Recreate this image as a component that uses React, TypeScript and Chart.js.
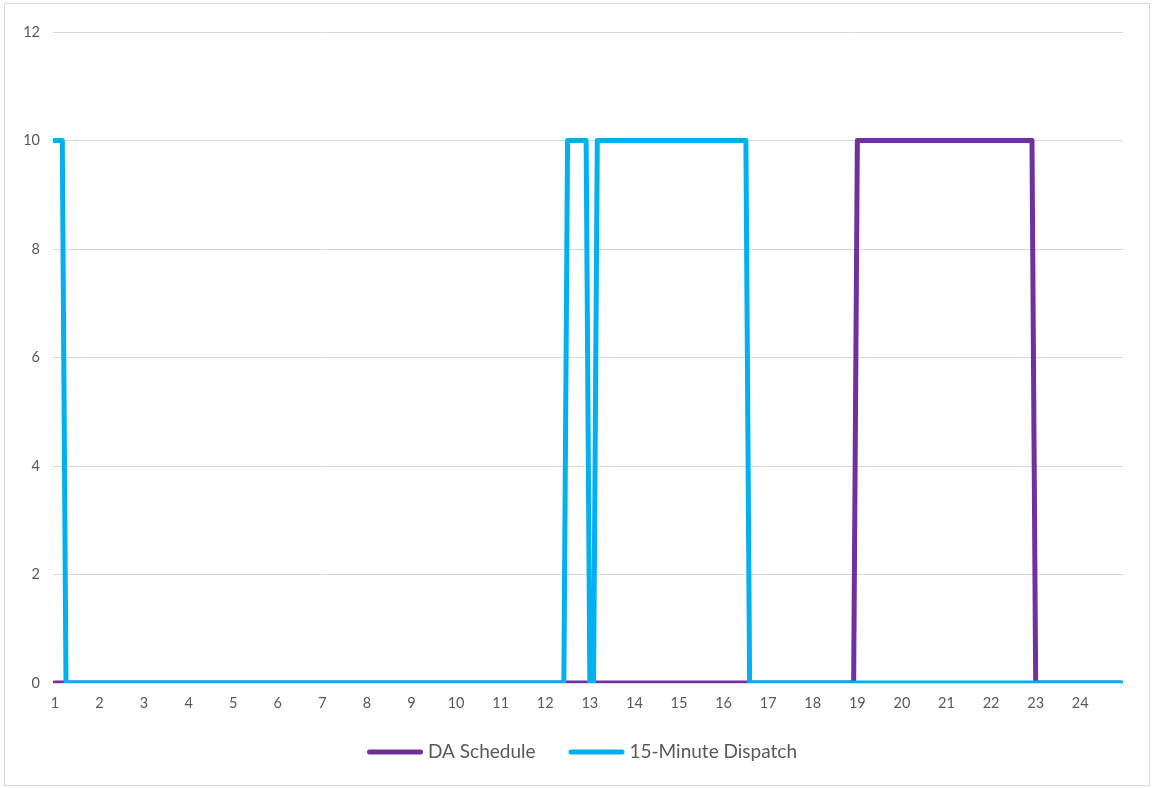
import React, { useEffect, useRef } from "react";
import { Chart, registerables } from "chart.js";

Chart.register(...registerables);

// x positions are 5-minute interval indices (0..287); hour labels every 12 intervals
const hourLabels = ["1","2","3","4","5","6","7","8","9","10","11","12","13","14","15","16","17","18","19","20","21","22","23","24"];
const hourTickIndex = [0,12,24,36,48,60,72,84,96,108,120,132,144,156,168,180,192,204,216,228,240,252,264,276];

// DA Schedule: change points (interval index, MW)
const daX = [0, 215, 216, 263, 264, 287];
const daY = [0, 0, 10, 10, 0, 0];

// 15-Minute Dispatch: change points (interval index, MW)
const dispX = [0, 2, 3, 137, 138, 143, 144, 145, 146, 186, 187, 287];
const dispY = [10, 10, 0, 0, 10, 10, 0, 0, 10, 10, 0, 0];

const seriesNames = ["DA Schedule", "15-Minute Dispatch"];
const seriesColors = ["#7030A0", "#00B0F0"];
const yTicks = [0, 2, 4, 6, 8, 10, 12];

const FONT = "Lato, 'Liberation Sans', Arial, sans-serif";

export default function App() {
  const ref = useRef<HTMLCanvasElement | null>(null);
  useEffect(() => {
    const canvas = ref.current;
    if (!canvas) return;

    const framePlugin = {
      id: "frame",
      beforeDraw(chart: any) {
        const ctx = chart.ctx;
        ctx.save();
        ctx.fillStyle = "#ffffff";
        ctx.fillRect(0, 0, chart.width, chart.height);
        ctx.strokeStyle = "#d9d9d9";
        ctx.lineWidth = 1;
        ctx.strokeRect(4.5, 3.5, 1145, 782);
        ctx.restore();
      },
      afterDraw(chart: any) {
        const ctx = chart.ctx;
        ctx.save();
        ctx.font = `19px ${FONT}`;
        ctx.textBaseline = "middle";
        const lineLen = 56;
        const gapText = 5;
        const gapItem = 33;
        const w0 = ctx.measureText(seriesNames[0]).width;
        const w1 = ctx.measureText(seriesNames[1]).width;
        const total = lineLen + gapText + w0 + gapItem + lineLen + gapText + w1;
        let x = 582 - total / 2;
        const y = 752;
        const widths = [w0, w1];
        for (let i = 0; i < 2; i++) {
          ctx.strokeStyle = seriesColors[i];
          ctx.lineWidth = 5;
          ctx.lineCap = "round";
          ctx.beginPath();
          ctx.moveTo(x + 2.5, y);
          ctx.lineTo(x + lineLen - 2.5, y);
          ctx.stroke();
          ctx.fillStyle = "#595959";
          ctx.textAlign = "left";
          ctx.fillText(seriesNames[i], x + lineLen + gapText, y);
          x += lineLen + gapText + widths[i] + gapItem;
        }
        ctx.restore();
      },
    };

    const chart = new Chart(canvas, {
      type: "line",
      data: {
        datasets: [
          {
            label: seriesNames[0],
            data: daX.map((x, i) => ({ x, y: daY[i] })),
            borderColor: seriesColors[0],
            backgroundColor: seriesColors[0],
            borderWidth: 5,
            pointRadius: 0,
            borderJoinStyle: "round",
            borderCapStyle: "round",
            tension: 0,
            order: 1,
          },
          {
            label: seriesNames[1],
            data: dispX.map((x, i) => ({ x, y: dispY[i] })),
            borderColor: seriesColors[1],
            backgroundColor: seriesColors[1],
            borderWidth: 5,
            pointRadius: 0,
            borderJoinStyle: "round",
            borderCapStyle: "round",
            tension: 0,
            order: 0,
          },
        ],
      },
      options: {
        animation: false,
        responsive: false,
        devicePixelRatio: 1,
        layout: { padding: { top: 32, left: 0, right: 31, bottom: 65 } },
        plugins: {
          legend: { display: false },
          tooltip: { enabled: false },
        },
        scales: {
          x: {
            type: "linear",
            min: -0.5,
            max: 287.5,
            grid: { display: false, drawTicks: false },
            border: { display: false },
            afterBuildTicks: (scale: any) => {
              scale.ticks = hourTickIndex.map((v) => ({ value: v }));
            },
            afterFit: (scale: any) => {
              scale.height = 40;
            },
            ticks: {
              autoSkip: false,
              maxRotation: 0,
              padding: 12,
              color: "#595959",
              font: { size: 14.5, family: FONT },
              callback: (_v: any, i: number) => hourLabels[i],
            },
          },
          y: {
            min: 0,
            max: 12,
            grid: { color: "#d9d9d9", lineWidth: 1, drawTicks: false },
            border: { display: false },
            afterBuildTicks: (scale: any) => {
              scale.ticks = yTicks.map((v) => ({ value: v }));
            },
            afterFit: (scale: any) => {
              scale.width = 53;
            },
            ticks: {
              padding: 13,
              color: "#595959",
              font: { size: 14.5, family: FONT },
            },
          },
        },
      },
      plugins: [framePlugin],
    } as any);
    return () => chart.destroy();
  }, []);

  return (
    <div style={{ position: "absolute", left: 0, top: 0, width: 1154, height: 788, background: "#fff" }}>
      <canvas ref={ref} width={1154} height={788} style={{ display: "block", width: 1154, height: 788 }} />
    </div>
  );
}
